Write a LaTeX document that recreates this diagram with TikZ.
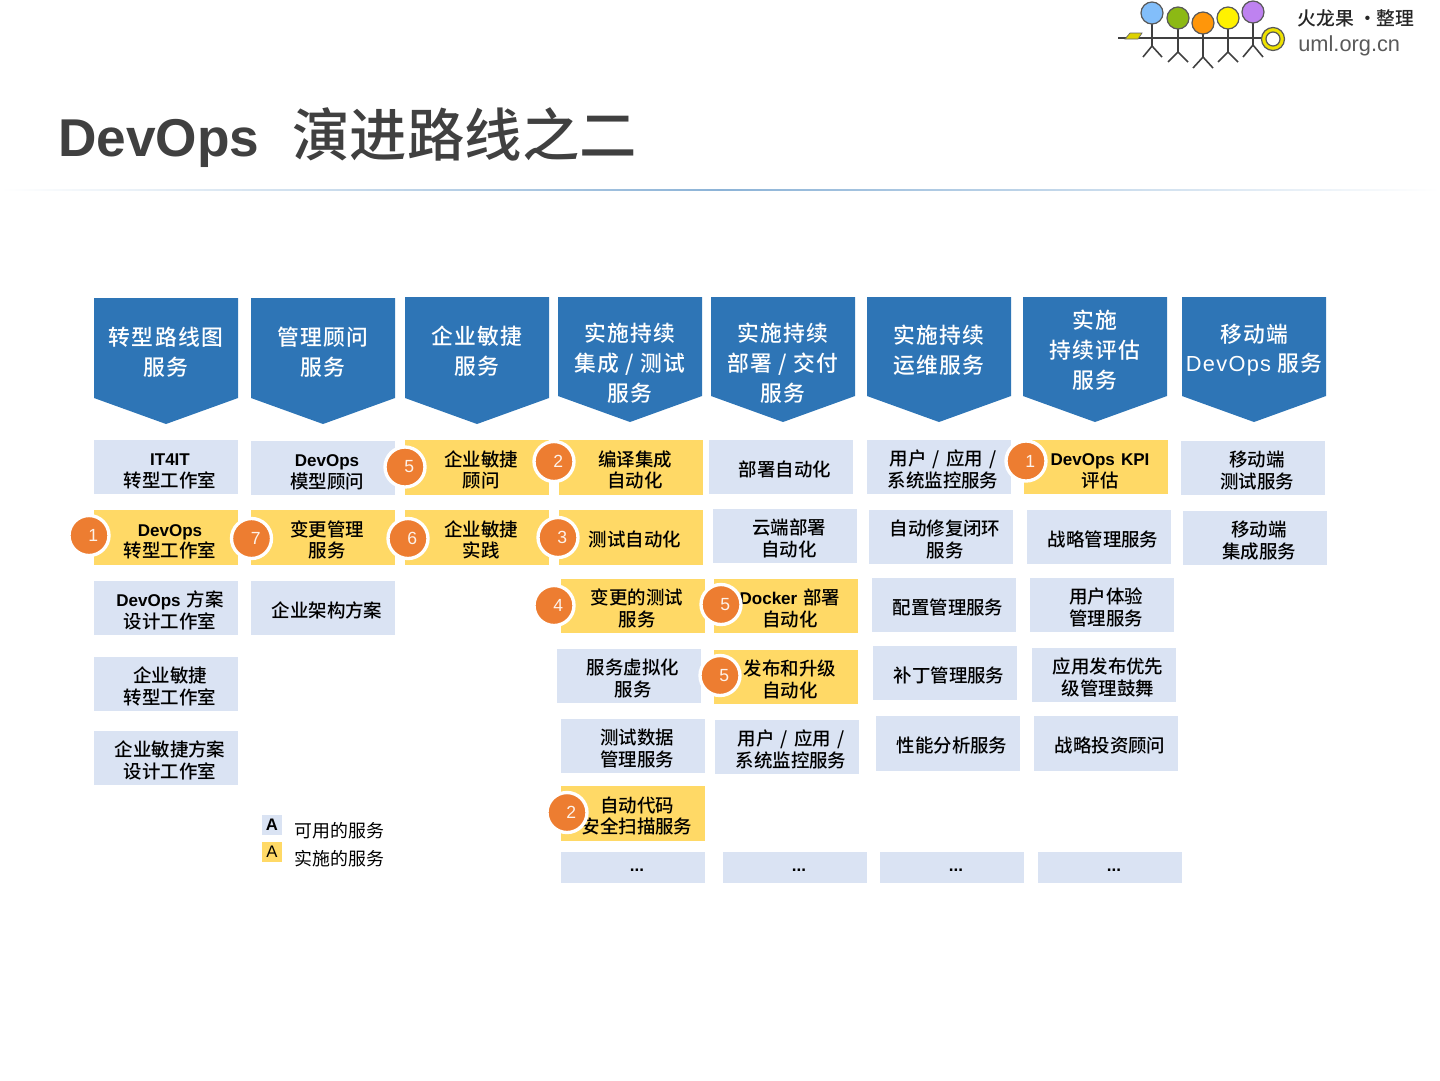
\documentclass[tikz,border=0pt]{standalone}
\usepackage{fontspec}
\usepackage{xcolor}
\usetikzlibrary{positioning}
\setmainfont{Liberation Sans}
\newfontfamily\cjk[Scale=1.03]{Noto Sans CJK SC Medium}
\newfontfamily\cjkplain{Noto Sans CJK SC}
\newfontfamily\cjkhead[LetterSpace=6]{Noto Sans CJK SC Medium}
\newfontfamily\lat[Scale=0.95]{Liberation Sans Bold}
\newfontfamily\lattitle{Liberation Sans Bold}
\newfontfamily\lathead[LetterSpace=6]{Liberation Sans}
\definecolor{headblue}{HTML}{2E75B6}
\definecolor{paleblue}{HTML}{DAE3F3}
\definecolor{palegold}{HTML}{FFD966}
\definecolor{badgeorange}{HTML}{ED7D31}
\definecolor{titlegray}{HTML}{404040}
\tikzset{
  bluebox/.style={rectangle, fill=paleblue, inner sep=0pt, text width=2.88cm, minimum height=1.09cm, font=\fontsize{10.2}{12.2}\selectfont\cjk,
    execute at begin node={\parindent=0pt\leftskip=0.16cm plus 1fil\rightskip=0pt plus 1fil\parfillskip=0pt\vskip -0.02cm}},
  goldbox/.style={bluebox, fill=palegold},
  morebox/.style={bluebox, minimum height=0.62cm},
  headtext/.style={text=white, align=center, inner sep=0pt, font=\fontsize{12.4}{17}\selectfont\cjkhead},
  badge/.style={circle, fill=badgeorange, draw=white, line width=1.9pt, minimum size=0.8cm, inner sep=0pt, text=white!90!badgeorange, font=\fontsize{10}{12}\selectfont,
    execute at begin node={\hspace{0.17cm}\lower0.1cm\hbox\bgroup}, execute at end node={\egroup}},
  legendkey/.style={rectangle, minimum size=0.4cm, inner sep=0pt, font=\fontsize{9.5}{11}\selectfont},
  legendtext/.style={anchor=west, inner sep=0pt, font=\fontsize{10.2}{12}\selectfont\cjkplain},
  logoline/.style={line width=0.9pt, black!75},
  logoball/.style={draw=black!65, line width=0.7pt}
}
\newcommand{\moredots}{\raisebox{0.12cm}[0pt][0pt]{\lat ...}}
\begin{document}
\begin{tikzpicture}[x=0.02cm, y=-0.02cm]
\useasboundingbox (0,0) rectangle (1440,1080);
% Logo
\draw[logoline] (1118,38) -- (1263,38);
\fill[yellow!70!olive, draw=black!60] (1125,39) -- (1130,33) -- (1142,33) -- (1138,39) -- cycle;
\draw[logoline] (1152,24) -- (1152,46) (1143,57) -- (1152,46) -- (1162,57);
\draw[logoline] (1178,29) -- (1178,52) (1168,62) -- (1178,52) -- (1188,62);
\draw[logoline] (1203,34) -- (1203,57) (1193,68) -- (1203,57) -- (1213,68);
\draw[logoline] (1228,29) -- (1228,52) (1218,62) -- (1228,52) -- (1238,62);
\draw[logoline] (1253,23) -- (1253,45) (1243,57) -- (1253,45) -- (1263,57);
\filldraw[logoball, fill={rgb,255:red,130;green,190;blue,250}] (1152,13) circle[radius=11];
\filldraw[logoball, fill={rgb,255:red,140;green,185;blue,20}] (1178,18) circle[radius=11];
\filldraw[logoball, fill={rgb,255:red,255;green,150;blue,10}] (1203,23) circle[radius=11];
\filldraw[logoball, fill=yellow] (1228,18) circle[radius=11];
\filldraw[logoball, fill={rgb,255:red,190;green,130;blue,240}] (1253,12) circle[radius=11];
\filldraw[logoball, fill=yellow!85!olive] (1273,39) circle[radius=11.5];
\filldraw[logoball, fill=white] (1273,39) circle[radius=7];
\node[anchor=west, inner sep=0pt, text=black!85, font=\fontsize{10.4}{12}\selectfont\cjk] (logotitle) at (1297,18) {火龙果 ·整理};
\node[anchor=west, inner sep=0pt, text=black!65, font=\fontsize{12.4}{14}\selectfont] (logourl) at (1298,46) {uml.org.cn};

% Title
\node[anchor=west, inner sep=0pt, text=titlegray, font=\fontsize{30.3}{36}\selectfont] (title) at (58,138) {{\lattitle DevOps}\hspace{0.66cm}{\fontsize{31.7}{36}\selectfont\cjk 演进路线之二}};
\shade[left color=white, right color=white, middle color=headblue!55] (0,189.4) rectangle (1440,190.6);

% Column heads
\fill[headblue] (94,298) -- (238,298) -- (238,398) -- (166,424) -- (94,398) -- cycle;
\node[headtext] (head1) at (166,352) {转型路线图\\服务};
\fill[headblue] (251,298) -- (395,298) -- (395,398) -- (323,424) -- (251,398) -- cycle;
\node[headtext] (head2) at (323,352) {管理顾问\\服务};
\fill[headblue] (405,297) -- (549,297) -- (549,398) -- (477,424) -- (405,398) -- cycle;
\node[headtext] (head3) at (477,351) {企业敏捷\\服务};
\fill[headblue] (558,297) -- (702,297) -- (702,396) -- (630,422) -- (558,396) -- cycle;
\node[headtext] (head4) at (630,363) {实施持续\\集成 / 测试\\服务};
\fill[headblue] (711,297) -- (855,297) -- (855,396) -- (783,422) -- (711,396) -- cycle;
\node[headtext] (head5) at (783,363) {实施持续\\部署 / 交付\\服务};
\fill[headblue] (867,297) -- (1011,297) -- (1011,396) -- (939,422) -- (867,396) -- cycle;
\node[headtext] (head6) at (939,350) {实施持续\\运维服务};
\fill[headblue] (1023,297) -- (1167,297) -- (1167,396) -- (1095,422) -- (1023,396) -- cycle;
\node[headtext] (head7) at (1095,350) {实施\\持续评估\\服务};
\fill[headblue] (1182,297) -- (1326,297) -- (1326,396) -- (1254,422) -- (1182,396) -- cycle;
\node[headtext] (head8) at (1254,350) {移动端\\{\lathead DevOps} 服务};

% Column 1
\node[bluebox] (road1) at (166,467) {{\lat IT4IT}\\转型工作室};
\node[goldbox] (road2) at (166,537.5) {{\lat DevOps}\\转型工作室};
\node[bluebox] (road3) at (166,608) {{\lat DevOps} 方案\\设计工作室};
\node[bluebox] (road4) at (166,684) {企业敏捷\\转型工作室};
\node[bluebox] (road5) at (166,758) {企业敏捷方案\\设计工作室};

% Column 2
\node[bluebox] (consult1) at (323,468) {{\lat DevOps}\\模型顾问};
\node[goldbox] (consult2) at (323,537.5) {变更管理\\服务};
\node[bluebox] (consult3) at (323,608) {企业架构方案};

% Column 3
\node[goldbox] (agile1) at (477,467.5) {企业敏捷\\顾问};
\node[goldbox] (agile2) at (477,537.5) {企业敏捷\\实践};

% Column 4
\node[goldbox] (ci1) at (631,467.5) {编译集成\\自动化};
\node[goldbox] (ci2) at (631,537.5) {测试自动化};
\node[goldbox] (ci3) at (633,606) {变更的测试\\服务};
\node[bluebox] (ci4) at (629,676) {服务虚拟化\\服务};
\node[bluebox] (ci5) at (633,746) {测试数据\\管理服务};
\node[goldbox] (ci6) at (633,813.5) {自动代码\\安全扫描服务};
\node[morebox] (ci7) at (633,867.5) {\moredots};

% Column 5
\node[bluebox] (cd1) at (781,467) {部署自动化};
\node[bluebox] (cd2) at (785,536) {云端部署\\自动化};
\node[goldbox] (cd3) at (786,606) {{\lat Docker} 部署\\自动化};
\node[goldbox] (cd4) at (786,677) {发布和升级\\自动化};
\node[bluebox] (cd5) at (787,747) {用户 / 应用 /\\系统监控服务};
\node[morebox] (cd6) at (795,867.5) {\moredots};

% Column 6
\node[bluebox] (ops1) at (939,467) {用户 / 应用 /\\系统监控服务};
\node[bluebox] (ops2) at (941,537) {自动修复闭环\\服务};
\node[bluebox] (ops3) at (944,605) {配置管理服务};
\node[bluebox] (ops4) at (945,673) {补丁管理服务};
\node[bluebox] (ops5) at (948,743.5) {性能分析服务};
\node[morebox] (ops6) at (952,867.5) {\moredots};

% Column 7
\node[goldbox] (eval1) at (1096,467) {{\lat DevOps KPI}\\评估};
\node[bluebox] (eval2) at (1099,537) {战略管理服务};
\node[bluebox] (eval3) at (1102,605) {用户体验\\管理服务};
\node[bluebox] (eval4) at (1104,675) {应用发布优先\\级管理鼓舞};
\node[bluebox] (eval5) at (1106,743.5) {战略投资顾问};
\node[morebox] (eval6) at (1110,867.5) {\moredots};

% Column 8
\node[bluebox] (mobile1) at (1253,468) {移动端\\测试服务};
\node[bluebox] (mobile2) at (1255,538) {移动端\\集成服务};

% Order badges
\node[badge] (num1) at (89,535.5) {1};
\node[badge] (num2) at (251.5,538.5) {7};
\node[badge] (num3) at (405,467) {5};
\node[badge] (num4) at (408,538.5) {6};
\node[badge] (num5) at (554,461.5) {2};
\node[badge] (num6) at (558,537.5) {3};
\node[badge] (num7) at (554,605.5) {4};
\node[badge] (num8) at (721,604.5) {5};
\node[badge] (num9) at (720,675.5) {5};
\node[badge] (num10) at (567,812.5) {2};
\node[badge] (num11) at (1026,461) {1};

% Legend
\node[legendkey, fill=paleblue] (key1) at (272,825) {\textbf{A}};
\node[legendkey, fill=palegold] (key2) at (272,852) {A};
\node[legendtext] (keytext1) at (294,831) {可用的服务};
\node[legendtext] (keytext2) at (294,859) {实施的服务};
\end{tikzpicture}
\end{document}
